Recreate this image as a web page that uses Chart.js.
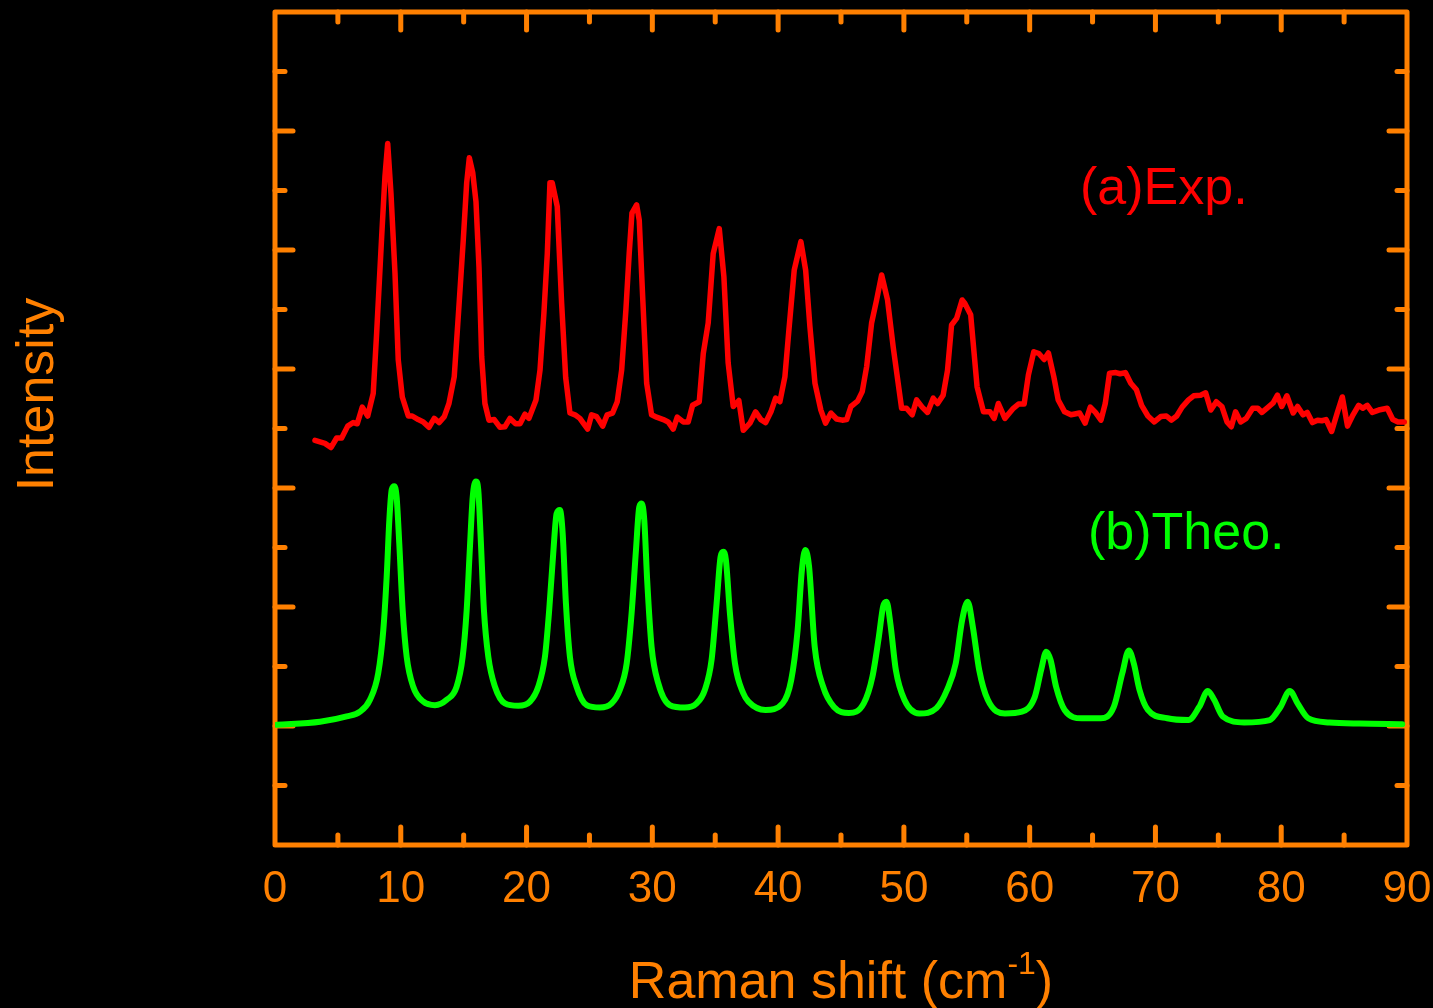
<!DOCTYPE html>
<html>
<head>
<meta charset="utf-8">
<script src="https://cdn.jsdelivr.net/npm/chart.js@4/dist/chart.umd.min.js"></script>
<style>
  html, body { margin: 0; background: #000; overflow: hidden; }
  #wrap { width: 1433px; height: 1008px; }
</style>
</head>
<body>
<div id="wrap"><canvas id="raman"></canvas></div>
<script>
const expX = [
  3.18,3.97,4.45,4.90,5.30,5.78,6.22,6.54,6.94,7.37,
  7.81,8.08,8.48,8.74,8.96,9.22,9.54,9.80,10.12,10.60,
  10.91,11.39,11.79,12.24,12.66,13.04,13.46,13.83,14.25,14.57,
  14.97,15.24,15.45,15.72,15.98,16.22,16.43,16.69,17.01,17.43,
  17.89,18.28,18.68,19.13,19.48,19.87,20.19,
  20.75,21.07,21.38,21.65,21.86,22.04,22.44,22.79,23.11,23.45,
  23.85,24.24,24.51,24.86,25.17,25.57,26.05,26.41,26.84,27.21,
  27.56,27.90,28.16,28.38,28.75,28.96,29.23,29.55,29.94,30.34,
  30.87,31.26,31.66,31.98,32.46,32.85,33.20,33.73,34.05,34.44,
  34.84,35.32,35.69,36.03,36.43,36.88,37.23,
  37.76,38.21,38.63,39.01,39.43,39.80,40.14,40.54,40.86,41.28,
  41.81,42.19,42.53,42.93,43.40,43.77,44.20,44.65,45.10,45.45,
  45.79,46.32,46.69,47.04,47.43,47.83,48.23,48.70,49.15,49.82,
  50.21,50.66,51.01,51.45,51.88,52.33,52.68,53.12,53.47,53.79,
  54.19,54.63,54.85,55.31,
  55.82,56.33,56.84,57.18,57.51,58.03,58.70,59.11,59.56,59.90,
  60.33,60.73,61.15,61.49,61.92,62.27,62.78,63.29,63.97,64.41,
  64.82,65.23,65.67,66.01,66.35,66.85,67.19,67.61,68.04,68.49,
  68.90,69.40,69.91,70.42,70.87,71.27,71.69,72.12,
  72.63,73.04,73.59,73.99,74.40,74.84,75.28,75.69,76.03,76.37,
  76.78,77.22,77.73,78.14,78.47,78.92,79.36,79.70,80.04,80.45,
  80.95,81.30,81.73,82.07,82.48,82.89,83.23,83.57,84.01,84.45,
  84.86,85.27,85.71,86.15,86.49,86.84,87.24,87.75,88.43,88.87,
  89.28,89.79
];
const expY = [
  6.80,6.75,6.68,6.84,6.84,7.04,7.10,7.08,7.36,7.21,
  7.59,8.60,10.22,11.23,11.79,10.95,9.61,8.15,7.53,7.21,
  7.21,7.15,7.11,7.02,7.17,7.10,7.20,7.42,7.87,8.88,
  10.17,11.13,11.55,11.30,10.81,9.71,8.21,7.42,7.14,7.15,
  7.02,7.03,7.17,7.08,7.08,7.24,7.17,
  7.48,7.98,8.94,9.94,11.13,11.13,10.73,9.10,7.86,7.26,
  7.23,7.17,7.09,6.99,7.23,7.20,7.04,7.23,7.26,7.45,
  7.98,9.00,9.94,10.62,10.76,10.50,9.22,7.76,7.23,7.19,
  7.15,7.11,6.99,7.19,7.11,7.11,7.39,7.45,8.26,8.77,
  9.94,10.36,9.55,8.10,7.37,7.47,6.97,
  7.09,7.28,7.15,7.10,7.28,7.51,7.45,7.87,8.66,9.66,
  10.14,9.66,8.71,7.76,7.31,7.09,7.26,7.16,7.14,7.15,
  7.37,7.46,7.62,8.04,8.77,9.16,9.58,9.16,8.37,7.34,
  7.34,7.23,7.48,7.36,7.27,7.51,7.42,7.56,7.98,8.74,
  8.85,9.16,9.10,8.91,
  7.70,7.28,7.28,7.17,7.42,7.17,7.34,7.41,7.41,7.90,
  8.29,8.26,8.16,8.27,7.87,7.48,7.28,7.23,7.26,7.09,
  7.36,7.27,7.14,7.42,7.93,7.94,7.92,7.94,7.76,7.65,
  7.39,7.21,7.11,7.20,7.21,7.14,7.21,7.36,
  7.48,7.55,7.56,7.60,7.31,7.45,7.37,7.11,7.03,7.28,
  7.11,7.17,7.34,7.34,7.27,7.35,7.43,7.56,7.37,7.55,
  7.26,7.37,7.23,7.27,7.10,7.14,7.13,7.15,6.95,7.26,
  7.53,7.04,7.23,7.39,7.34,7.39,7.27,7.31,7.34,7.15,
  7.11,7.11
];

// (b) theoretical spectrum
const theoX = [
  0.14,3.58,5.70,6.76,7.55,8.21,8.61,8.88,9.09,9.28,
  9.48,9.67,9.88,10.15,10.47,10.99,11.79,12.72,13.65,14.44,
  14.92,15.24,15.50,15.72,15.98,16.16,16.35,16.61,16.96,17.49,
  18.28,19.34,20.27,20.93,21.46,21.80,22.12,22.39,22.65,22.87,
  23.13,23.45,23.98,24.78,25.83,26.76,27.42,27.96,28.35,28.70,
  28.96,29.15,29.36,29.59,29.94,30.47,31.40,32.59,33.52,34.18,
  34.71,35.11,35.43,35.64,35.85,36.17,36.57,37.23,37.64,39.00,
  40.36,41.04,41.55,41.89,42.16,42.46,42.91,43.58,44.44,45.63,
  46.81,47.50,48.01,48.35,48.62,48.92,49.36,50.04,51.23,52.59,
  53.44,54.12,54.63,55.07,55.48,55.99,56.67,58.03,59.38,60.41,
  60.91,61.32,61.66,62.10,62.78,64.14,65.67,66.69,67.37,67.88,
  68.28,68.73,69.40,70.94,72.63,73.48,74.17,74.67,75.35,77.05,
  79.09,79.94,80.68,81.30,82.15,83.84,86.22,89.62
];
const theoY = [
  2.02,2.07,2.16,2.24,2.44,2.89,3.61,4.51,5.46,5.97,
  6.03,5.85,5.07,3.95,3.16,2.66,2.41,2.35,2.44,2.66,
  3.16,3.95,5.01,5.85,6.11,5.97,5.18,3.95,3.16,2.66,
  2.38,2.34,2.41,2.66,3.16,3.95,4.90,5.57,5.63,5.24,
  4.06,3.16,2.66,2.35,2.31,2.38,2.61,3.05,3.89,4.96,
  5.68,5.74,5.46,4.45,3.33,2.72,2.35,2.31,2.38,2.61,
  3.11,4.06,4.85,4.93,4.79,3.89,3.05,2.55,2.41,2.27,
  2.38,2.77,3.61,4.62,4.96,4.68,3.33,2.66,2.32,2.22,
  2.38,2.83,3.50,4.01,4.09,3.73,2.94,2.44,2.21,2.30,
  2.61,3.05,3.78,4.09,3.67,2.94,2.44,2.21,2.24,2.49,
  2.94,3.25,3.11,2.66,2.27,2.13,2.13,2.32,2.89,3.27,
  3.05,2.61,2.27,2.13,2.10,2.32,2.59,2.44,2.16,2.06,
  2.10,2.32,2.59,2.38,2.13,2.06,2.04,2.03
];

const seriesNames = ['(a)Exp.', '(b)Theo.'];
const xRange = [0, 90];
const yRange = [0, 14];

const ORANGE = '#ff8000';
const RED = '#ff0000';
const GREEN = '#00ff00';
const FONT = '"Liberation Sans", Arial, sans-serif';

const toPts = (xs, ys) => xs.map((x, i) => ({ x, y: ys[i] }));

// frame, inward ticks and text labels
const decor = {
  id: 'decor',
  beforeDatasetsDraw(chart) {
    const { ctx, chartArea: a, scales: { x, y } } = chart;
    ctx.save();
    ctx.strokeStyle = ORANGE;
    ctx.lineWidth = 5;
    ctx.lineCap = 'round';
    ctx.lineJoin = 'round';
    ctx.strokeRect(a.left, a.top, a.right - a.left, a.bottom - a.top);
    const seg = (x1, y1, x2, y2) => { ctx.beginPath(); ctx.moveTo(x1, y1); ctx.lineTo(x2, y2); ctx.stroke(); };
    for (let v = xRange[0] + 5; v < xRange[1]; v += 5) {
      const px = x.getPixelForValue(v);
      const len = v % 10 === 0 ? 18 : 10;
      seg(px, a.bottom, px, a.bottom - len);
      seg(px, a.top, px, a.top + len);
    }
    for (let v = yRange[0] + 1; v < yRange[1]; v++) {
      const py = y.getPixelForValue(v);
      const len = v % 2 === 0 ? 18 : 10;
      seg(a.left, py, a.left + len, py);
      seg(a.right, py, a.right - len, py);
    }
    ctx.restore();
  },
  afterDraw(chart) {
    const { ctx, chartArea: a } = chart;
    ctx.save();
    ctx.textBaseline = 'alphabetic';

    // series labels
    ctx.font = '52px ' + FONT;
    ctx.textAlign = 'left';
    ctx.fillStyle = RED;
    ctx.fillText(seriesNames[0], 1080, 204);
    ctx.fillStyle = GREEN;
    ctx.fillText(seriesNames[1], 1088, 549);

    // y title
    ctx.fillStyle = ORANGE;
    ctx.font = '52px ' + FONT;
    ctx.save();
    ctx.translate(53, (a.top + a.bottom) / 2 - 34);
    ctx.rotate(-Math.PI / 2);
    ctx.textAlign = 'center';
    ctx.fillText('Intensity', 0, 0);
    ctx.restore();

    // x title with superscript
    const main = 'Raman shift (cm';
    const sup = '-1';
    const close = ')';
    ctx.font = '52px ' + FONT;
    const w1 = ctx.measureText(main).width;
    const w3 = ctx.measureText(close).width;
    ctx.font = '32px ' + FONT;
    const w2 = ctx.measureText(sup).width;
    const total = w1 + w2 + w3;
    const sx = (a.left + a.right) / 2 - total / 2;
    const base = 998;
    ctx.textAlign = 'left';
    ctx.font = '52px ' + FONT;
    ctx.fillText(main, sx, base);
    ctx.font = '32px ' + FONT;
    ctx.fillText(sup, sx + w1, base - 24);
    ctx.font = '52px ' + FONT;
    ctx.fillText(close, sx + w1 + w2, base);
    ctx.restore();
  }
};

new Chart(document.getElementById('raman'), {
  type: 'line',
  data: {
    datasets: [
      {
        label: seriesNames[0],
        data: toPts(expX, expY),
        borderColor: RED,
        borderWidth: 5.5,
        pointRadius: 0,
        tension: 0,
        borderJoinStyle: 'round',
        borderCapStyle: 'round'
      },
      {
        label: seriesNames[1],
        data: toPts(theoX, theoY),
        borderColor: GREEN,
        borderWidth: 6,
        pointRadius: 0,
        cubicInterpolationMode: 'monotone',
        borderJoinStyle: 'round',
        borderCapStyle: 'round'
      }
    ]
  },
  options: {
    responsive: true,
    maintainAspectRatio: false,
    animation: false,
    layout: { padding: { top: 12, right: 0, left: 0, bottom: 0 } },
    plugins: { legend: { display: false }, tooltip: { enabled: false } },
    scales: {
      x: {
        type: 'linear',
        min: xRange[0],
        max: xRange[1],
        grid: { display: false, drawTicks: false },
        border: { display: false },
        ticks: {
          stepSize: 10,
          color: ORANGE,
          font: { size: 44, family: FONT },
          padding: 18,
          maxRotation: 0
        },
        afterFit(s) {
          s.height = 163;
          s.paddingLeft = 0;
          s.paddingRight = 26;
        }
      },
      y: {
        min: yRange[0],
        max: yRange[1],
        grid: { display: false, drawTicks: false },
        border: { display: false },
        ticks: { display: false },
        afterFit(s) { s.width = 275; }
      }
    }
  },
  plugins: [decor]
});
</script>
</body>
</html>
